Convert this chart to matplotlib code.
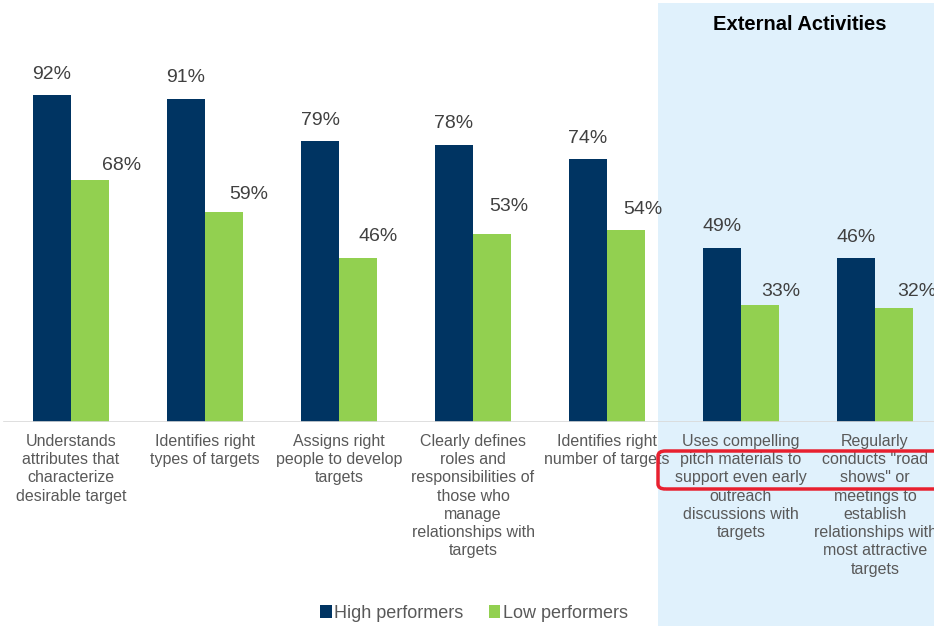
import matplotlib
matplotlib.use("Agg")
import matplotlib.pyplot as plt
from matplotlib.patches import Rectangle, FancyBboxPatch, Patch
import numpy as np

plt.rcParams['font.family'] = ['Liberation Sans', 'DejaVu Sans']

categories = [
    "Understands\nattributes that\ncharacterize\ndesirable target",
    "Identifies right\ntypes of targets",
    "Assigns right\npeople to develop\ntargets",
    "Clearly defines\nroles and\nresponsibilities of\nthose who\nmanage\nrelationships with\ntargets",
    "Identifies right\nnumber of targets",
    "Uses compelling\npitch materials to\nsupport even early\noutreach\ndiscussions with\ntargets",
    "Regularly\nconducts \"road\nshows\" or\nmeetings to\nestablish\nrelationships with\nmost attractive\ntargets",
]
high_performers = [92, 91, 79, 78, 74, 49, 46]
low_performers = [68, 59, 46, 53, 54, 33, 32]
series_names = ["High performers", "Low performers"]
section_title = "External Activities"

NAVY = "#003462"
GREEN = "#92d050"
SHADE = "#e0f1fc"
LABEL_GRAY = "#595959"
VALUE_GRAY = "#404040"

W, H = 934, 626
fig = plt.figure(figsize=(W / 100, H / 100), dpi=100)

# light-blue panel behind the external activities
fig.patches.append(Rectangle((658 / W, 0), (W - 658) / W, (H - 3) / H,
                             transform=fig.transFigure, facecolor=SHADE,
                             edgecolor="none", zorder=-1))

base_px = 421.5
ax = fig.add_axes([0, (H - base_px) / H, 1, 354.5 / H])
ax.set_zorder(1)
ax.set_facecolor("none")
ax.set_ylim(0, 100)
ax.set_xlim(-71 / 134, (W - 71) / 134)
for s in ax.spines.values():
    s.set_visible(False)
ax.set_xticks([])
ax.set_yticks([])

x = np.arange(len(categories))
bw = 38 / 134
ax.bar(x - bw / 2, high_performers, width=bw, color=NAVY, zorder=3)
ax.bar(x + bw / 2, low_performers, width=bw, color=GREEN, zorder=3)
ax.axhline(0, xmin=4 / W, xmax=1, color="#d9d9d9", lw=1.2, zorder=4)

# value labels (low-performer labels sit offset to the right)
low_dx = [32, 25, 20, 17, 17, 21, 23]
low_dy = [15, 18, 22, 27, 21, 13, 17]
for i in range(len(categories)):
    ax.annotate(f"{high_performers[i]}%", (x[i] - bw / 2, high_performers[i]),
                xytext=(0, 21 * 0.72), textcoords="offset points",
                ha="center", va="center", fontsize=14, color=VALUE_GRAY)
    ax.annotate(f"{low_performers[i]}%", (x[i] + bw / 2, low_performers[i]),
                xytext=(low_dx[i] * 0.72, low_dy[i] * 0.72),
                textcoords="offset points", ha="center", va="center",
                fontsize=14, color=VALUE_GRAY, annotation_clip=False)

# category labels under the baseline
for i, c in enumerate(categories):
    ax.annotate(c, (x[i], 0), xytext=(0, -9), textcoords="offset points",
                ha="center", va="top", fontsize=11.5, color=LABEL_GRAY,
                linespacing=1.27, annotation_clip=False)

fig.text(800 / W, 1 - 25 / H, section_title, ha="center", va="center",
         fontsize=14.5, fontweight="bold", color="black")

# red outline around the highlighted label lines
fig.patches.append(FancyBboxPatch((658 / W, 1 - 489 / H), (W + 10 - 658) / W, 38 / H,
                                  boxstyle="round,pad=0,rounding_size=0.008",
                                  transform=fig.transFigure, facecolor="none",
                                  edgecolor="#e8202f", lw=2.5, zorder=5))

handles = [Patch(facecolor=NAVY), Patch(facecolor=GREEN)]
fig.legend(handles, series_names, loc="center", bbox_to_anchor=(474 / W, 1 - 613 / H),
           ncol=2, frameon=False, fontsize=13, handlelength=0.65, handleheight=0.7,
           handletextpad=0.12, columnspacing=1.4, labelcolor=LABEL_GRAY)

fig.savefig("out.png", dpi=100)
